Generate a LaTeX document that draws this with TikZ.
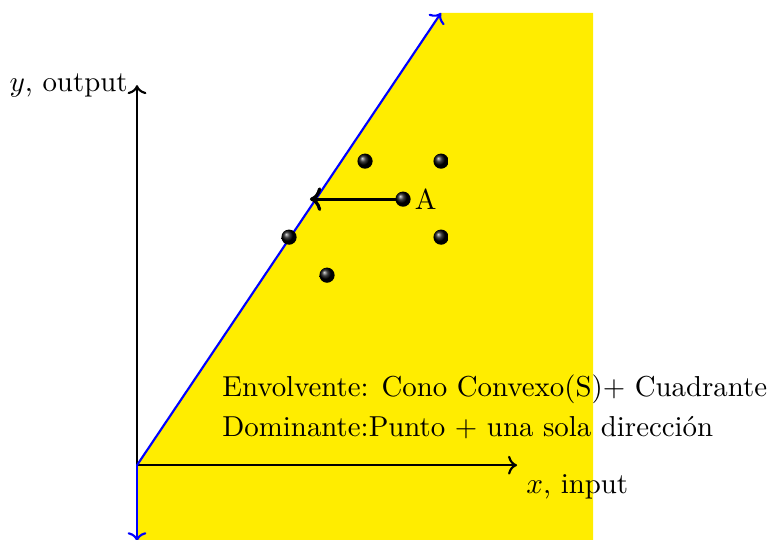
\documentclass[tikz,border=0pt]{standalone}
\usetikzlibrary{arrows.meta}
\definecolor{fillyellow}{RGB}{255,237,0}
\begin{document}
\begin{tikzpicture}[x=0.5cm,y=0.5cm,
  axis/.style={thick,->},
  bluearrow/.style={thick,blue,->},
  dot/.style={circle,inner sep=0pt,minimum size=0.2cm,shading=ball,ball color=black},
  every node/.append style={font=\fontsize{10.8}{13}\selectfont}]
\useasboundingbox (-3.605,-1.947) rectangle (16.63,12.24);
\fill[fillyellow] (0,0) -- (8,11.9) -- (12,11.9) -- (12,-2) -- (0,-2) -- cycle;
\coordinate (O) at (0,0);
\coordinate (Xend) at (10,0);
\coordinate (Yend) at (0,10);
\coordinate (Ltop) at (8,11.9);
\coordinate (Ybot) at (0,-2);
\coordinate (Hit) at (4.55,7);
\draw[axis] (O) -- (Xend);
\draw[axis] (O) -- (Yend);
\draw[bluearrow] (O) -- (Ltop);
\draw[bluearrow] (O) -- (Ybot);
\node[left] (ylab) at (Yend) {$y$, output};
\node[below right] (xlab) at (Xend) {$x$, input};
\draw[axis,line width=1.2pt] (7,7) -- (Hit);
\node[dot] (p1) at (4,6) {};
\node[dot] (p2) at (5,5) {};
\node[dot] (p3) at (6,8) {};
\node[dot] (A) at (7,7) {};
\node[dot] (p5) at (8,8) {};
\node[dot] (p6) at (8,6) {};
\node[right,xshift=0.03cm] (Alab) at (7,7) {A};
\node[right] (t1) at (2,2) {Envolvente: Cono Convexo(S)+ Cuadrante};
\node[right] (t2) at (2,1) {Dominante:Punto + una sola dirección};
\end{tikzpicture}
\end{document}
